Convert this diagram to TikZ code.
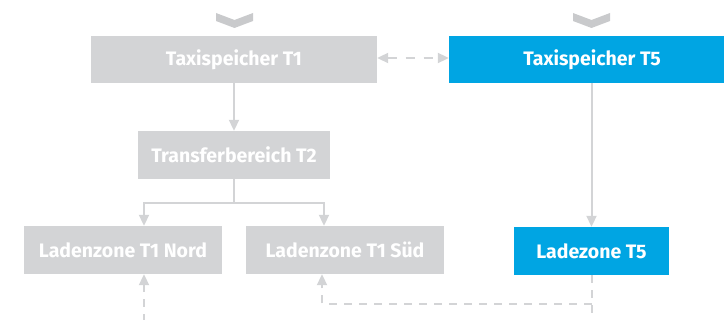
\documentclass[tikz,border=0pt]{standalone}
\usepackage{fontspec}
\setsansfont{Fira Sans}
\usetikzlibrary{arrows.meta}
\definecolor{boxgray}{HTML}{D3D4D6}
\definecolor{linegray}{HTML}{D3D4D6}
\definecolor{chevgray}{HTML}{C9CACC}
\definecolor{boxblue}{HTML}{00A5E3}
\begin{document}
\begin{tikzpicture}[x=1pt,y=-1pt,
  box/.style={rectangle, fill=boxgray, text=white, inner sep=0pt, minimum height=47pt,
    font=\sffamily\bfseries\fontsize{19.5}{22}\selectfont},
  bluebox/.style={box, fill=boxblue},
  conn/.style={draw=linegray, line width=2pt, -{Triangle[width=10pt,length=11pt]}},
  plainconn/.style={draw=linegray, line width=2pt},
  dconn/.style={draw=linegray, line width=2pt, dash pattern=on 8pt off 7pt},
  chev/.style={fill=chevgray, draw=none}]
\useasboundingbox (0,0) rectangle (724,320);
\clip (0,0) rectangle (724,320);
\node[box, minimum width=286pt] (t1) at (234,59.5) {Taxispeicher T1};
\node[bluebox, minimum width=286pt] (t5) at (592,59.5) {Taxispeicher T5};
\node[box, minimum width=192pt, minimum height=48pt] (t2) at (234,155) {Transferbereich T2};
\node[box, minimum width=198pt, minimum height=48pt] (nord) at (123,250) {Ladenzone T1 Nord};
\node[box, minimum width=198pt, minimum height=48pt] (sued) at (345,250) {Ladenzone T1 Süd};
\node[bluebox, minimum width=155pt, minimum height=48pt] (l5) at (591.5,251) {Ladezone T5};
% chevrons
\fill[chev] (216,13) -- (234.5,20) -- (253,13) -- (253,21) -- (234.5,28) -- (216,21) -- cycle;
\fill[chev] (573,13) -- (591.5,20) -- (610,13) -- (610,21) -- (591.5,28) -- (573,21) -- cycle;
% connectors
\draw[conn] (t1.south) -- (t2.north);
\coordinate (split) at (234,203);
\draw[plainconn] (t2.south) -- (split);
\draw[conn] (split) -| ([xshift=21pt]nord.north);
\draw[conn] (split) -| ([xshift=-21pt]sued.north);
\draw[conn] (l5.north |- t5.south) -- (l5.north);
\draw[dconn, {Triangle[width=10pt,length=11pt]}-{Triangle[width=10pt,length=11pt]}, dash pattern=on 9pt off 9pt] ([yshift=1.5pt]t1.east) -- ([yshift=1.5pt]t5.west);
\coordinate (lend) at (591.5,322);
\coordinate (bend) at (591.5,304);
\coordinate (nend) at (144,322);
\draw[dconn] (l5.south) -- (lend);
\draw[dconn, -{Triangle[width=10pt,length=11pt]}] (bend) -| ([xshift=-23pt]sued.south);
\draw[dconn, -{Triangle[width=10pt,length=11pt]}] (nend) -- ([xshift=21pt]nord.south);
\end{tikzpicture}
\end{document}
